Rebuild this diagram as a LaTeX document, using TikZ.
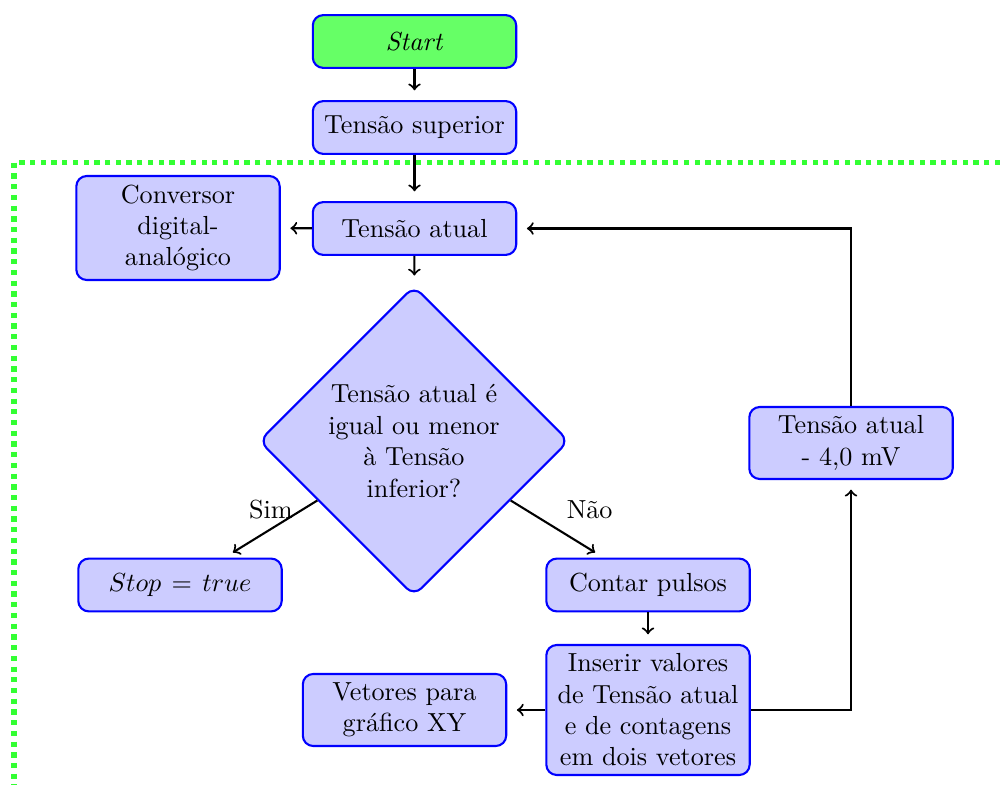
\documentclass[tikz,border=0pt]{standalone}
\usetikzlibrary{shapes.geometric,arrows}
\begin{document}
\begin{tikzpicture}[x=0.01344cm,y=-0.01344cm,
  box/.style={rectangle, rounded corners, draw=blue, thick, fill=blue!20,
    text width=2.5cm, align=center, minimum height=0.71cm},
  startbox/.style={box, fill=green!60},
  decision/.style={diamond, aspect=1, rounded corners, draw=blue, thick, fill=blue!20,
    text width=2.4cm, align=center, inner sep=0pt,
    minimum width=4.17cm, minimum height=4.17cm},
  link/.style={->, thick, shorten >=3.7pt},
  region/.style={draw=green!80, line width=2pt, dash pattern=on 2pt off 2.1pt}]
\useasboundingbox (0,0) rectangle (1000,785);

% loop region
\draw[region] (1000,162.5) -- (14,162.5) -- (14,785);

% nodes
\node[startbox] (start) at (414.5,41.5) {\textit{Start}};
\node[box] (sup) at (414.5,127.5) {Tensão superior};
\node[box] (atual) at (414.5,228.5) {Tensão atual};
\node[box] (conv) at (178,228) {Conversor\\digital-\\analógico};
\node[decision] (dec) at (414,441) {Tensão atual é\\igual ou menor\\à Tensão\\inferior?};
\node[box] (stop) at (180,585) {$Stop = true$};
\node[box] (contar) at (648,585) {Contar pulsos};
\node[box] (inserir) at (648,710) {Inserir valores\\de Tensão atual\\e de contagens\\em dois vetores};
\node[box] (vetores) at (404.5,710) {Vetores para\\gráfico XY};
\node[box] (menos) at (851,443) {Tensão atual\\- 4,0 mV};

% connectors
\draw[link] (start) -- (sup);
\draw[link] (sup) -- (atual);
\draw[link] (atual) -- (conv);
\draw[link] (atual) -- (dec);
\draw[link] (dec) -- node[above] {Sim} (stop);
\draw[link] (dec) -- node[above right] {Não} (contar);
\draw[link] (contar) -- (inserir);
\draw[link] (inserir) -- (vetores);
\draw[link] (inserir.east) -| (menos.south);
\draw[link] (menos.north) |- (atual.east);
\end{tikzpicture}
\end{document}
